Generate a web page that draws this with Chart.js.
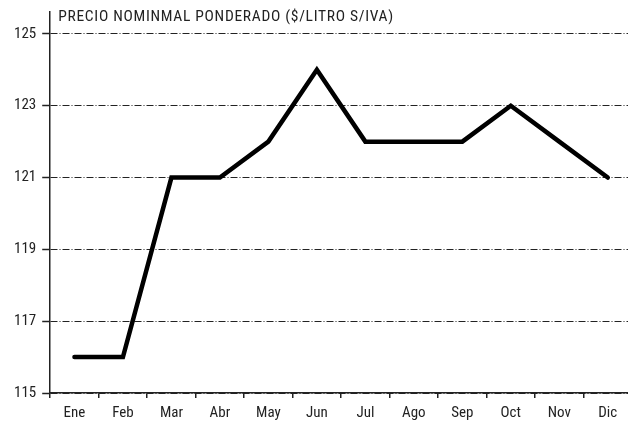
<!DOCTYPE html>
<html>
<head>
<meta charset="utf-8">
<script src="https://cdn.jsdelivr.net/npm/chart.js@4/dist/chart.umd.min.js"></script>
<style>
  html, body { margin: 0; padding: 0; background: #fff; overflow: hidden; }
  #wrap { width: 632px; height: 421px; }
</style>
</head>
<body>
<div id="wrap"><canvas id="chart"></canvas></div>
<script>
const months = ["Ene", "Feb", "Mar", "Abr", "May", "Jun", "Jul", "Ago", "Sep", "Oct", "Nov", "Dic"];
const precio = [116, 116, 121, 121, 122, 124, 122, 122, 122, 123, 122, 121];
const yTicks = [115, 117, 119, 121, 123, 125];
const chartTitle = "PRECIO NOMINMAL PONDERADO ($/LITRO S/IVA)";

const FONT = "'Liberation Sans Narrow', 'Roboto Condensed', 'Liberation Sans', sans-serif";

// draws the small heading inside the plot, top left
const titlePlugin = {
    id: "innerTitle",
    afterDraw(chart) {
        const ctx = chart.ctx;
        ctx.save();
        ctx.font = "15.5px " + FONT;
        if ("letterSpacing" in ctx) ctx.letterSpacing = "0.7px";
        ctx.fillStyle = "#222";
        ctx.textBaseline = "middle";
        ctx.fillText(chartTitle, chart.chartArea.left + 8, 17);
        ctx.restore();
    }
};

new Chart(document.getElementById("chart"), {
    type: "line",
    data: {
        labels: months,
        datasets: [{
            data: precio,
            borderColor: "#000",
            borderWidth: 4.5,
            borderCapStyle: "round",
            borderJoinStyle: "miter",
            pointRadius: 0,
            tension: 0,
            fill: false
        }]
    },
    options: {
        responsive: true,
        maintainAspectRatio: false,
        animation: false,
        layout: { padding: { left: 8, top: 10, right: 0, bottom: -8 } },
        plugins: { legend: { display: false }, tooltip: { enabled: false } },
        scales: {
            x: {
                offset: true,
                grid: {
                    offset: true,
                    drawOnChartArea: false,
                    tickLength: 5,
                    color: "#222",
                    lineWidth: 1.5
                },
                border: { color: "#222", width: 1.5 },
                ticks: { color: "#222", font: { size: 15, family: FONT, lineHeight: 1 }, padding: 8, maxRotation: 0 }
            },
            y: {
                min: 115,
                max: 125.61,
                afterBuildTicks: (axis) => { axis.ticks = yTicks.map(v => ({ value: v })); },
                grid: {
                    color: "#222",
                    lineWidth: 1,
                    tickLength: 8,
                    tickBorderDash: [],
                    tickColor: "#222",
                    tickWidth: 1.5
                },
                border: { color: "#222", width: 1.5, dash: [7, 2, 1, 2] },
                ticks: { color: "#222", font: { size: 15, family: FONT, lineHeight: 0.8 }, padding: 6 }
            }
        }
    },
    plugins: [titlePlugin]
});
</script>
</body>
</html>
